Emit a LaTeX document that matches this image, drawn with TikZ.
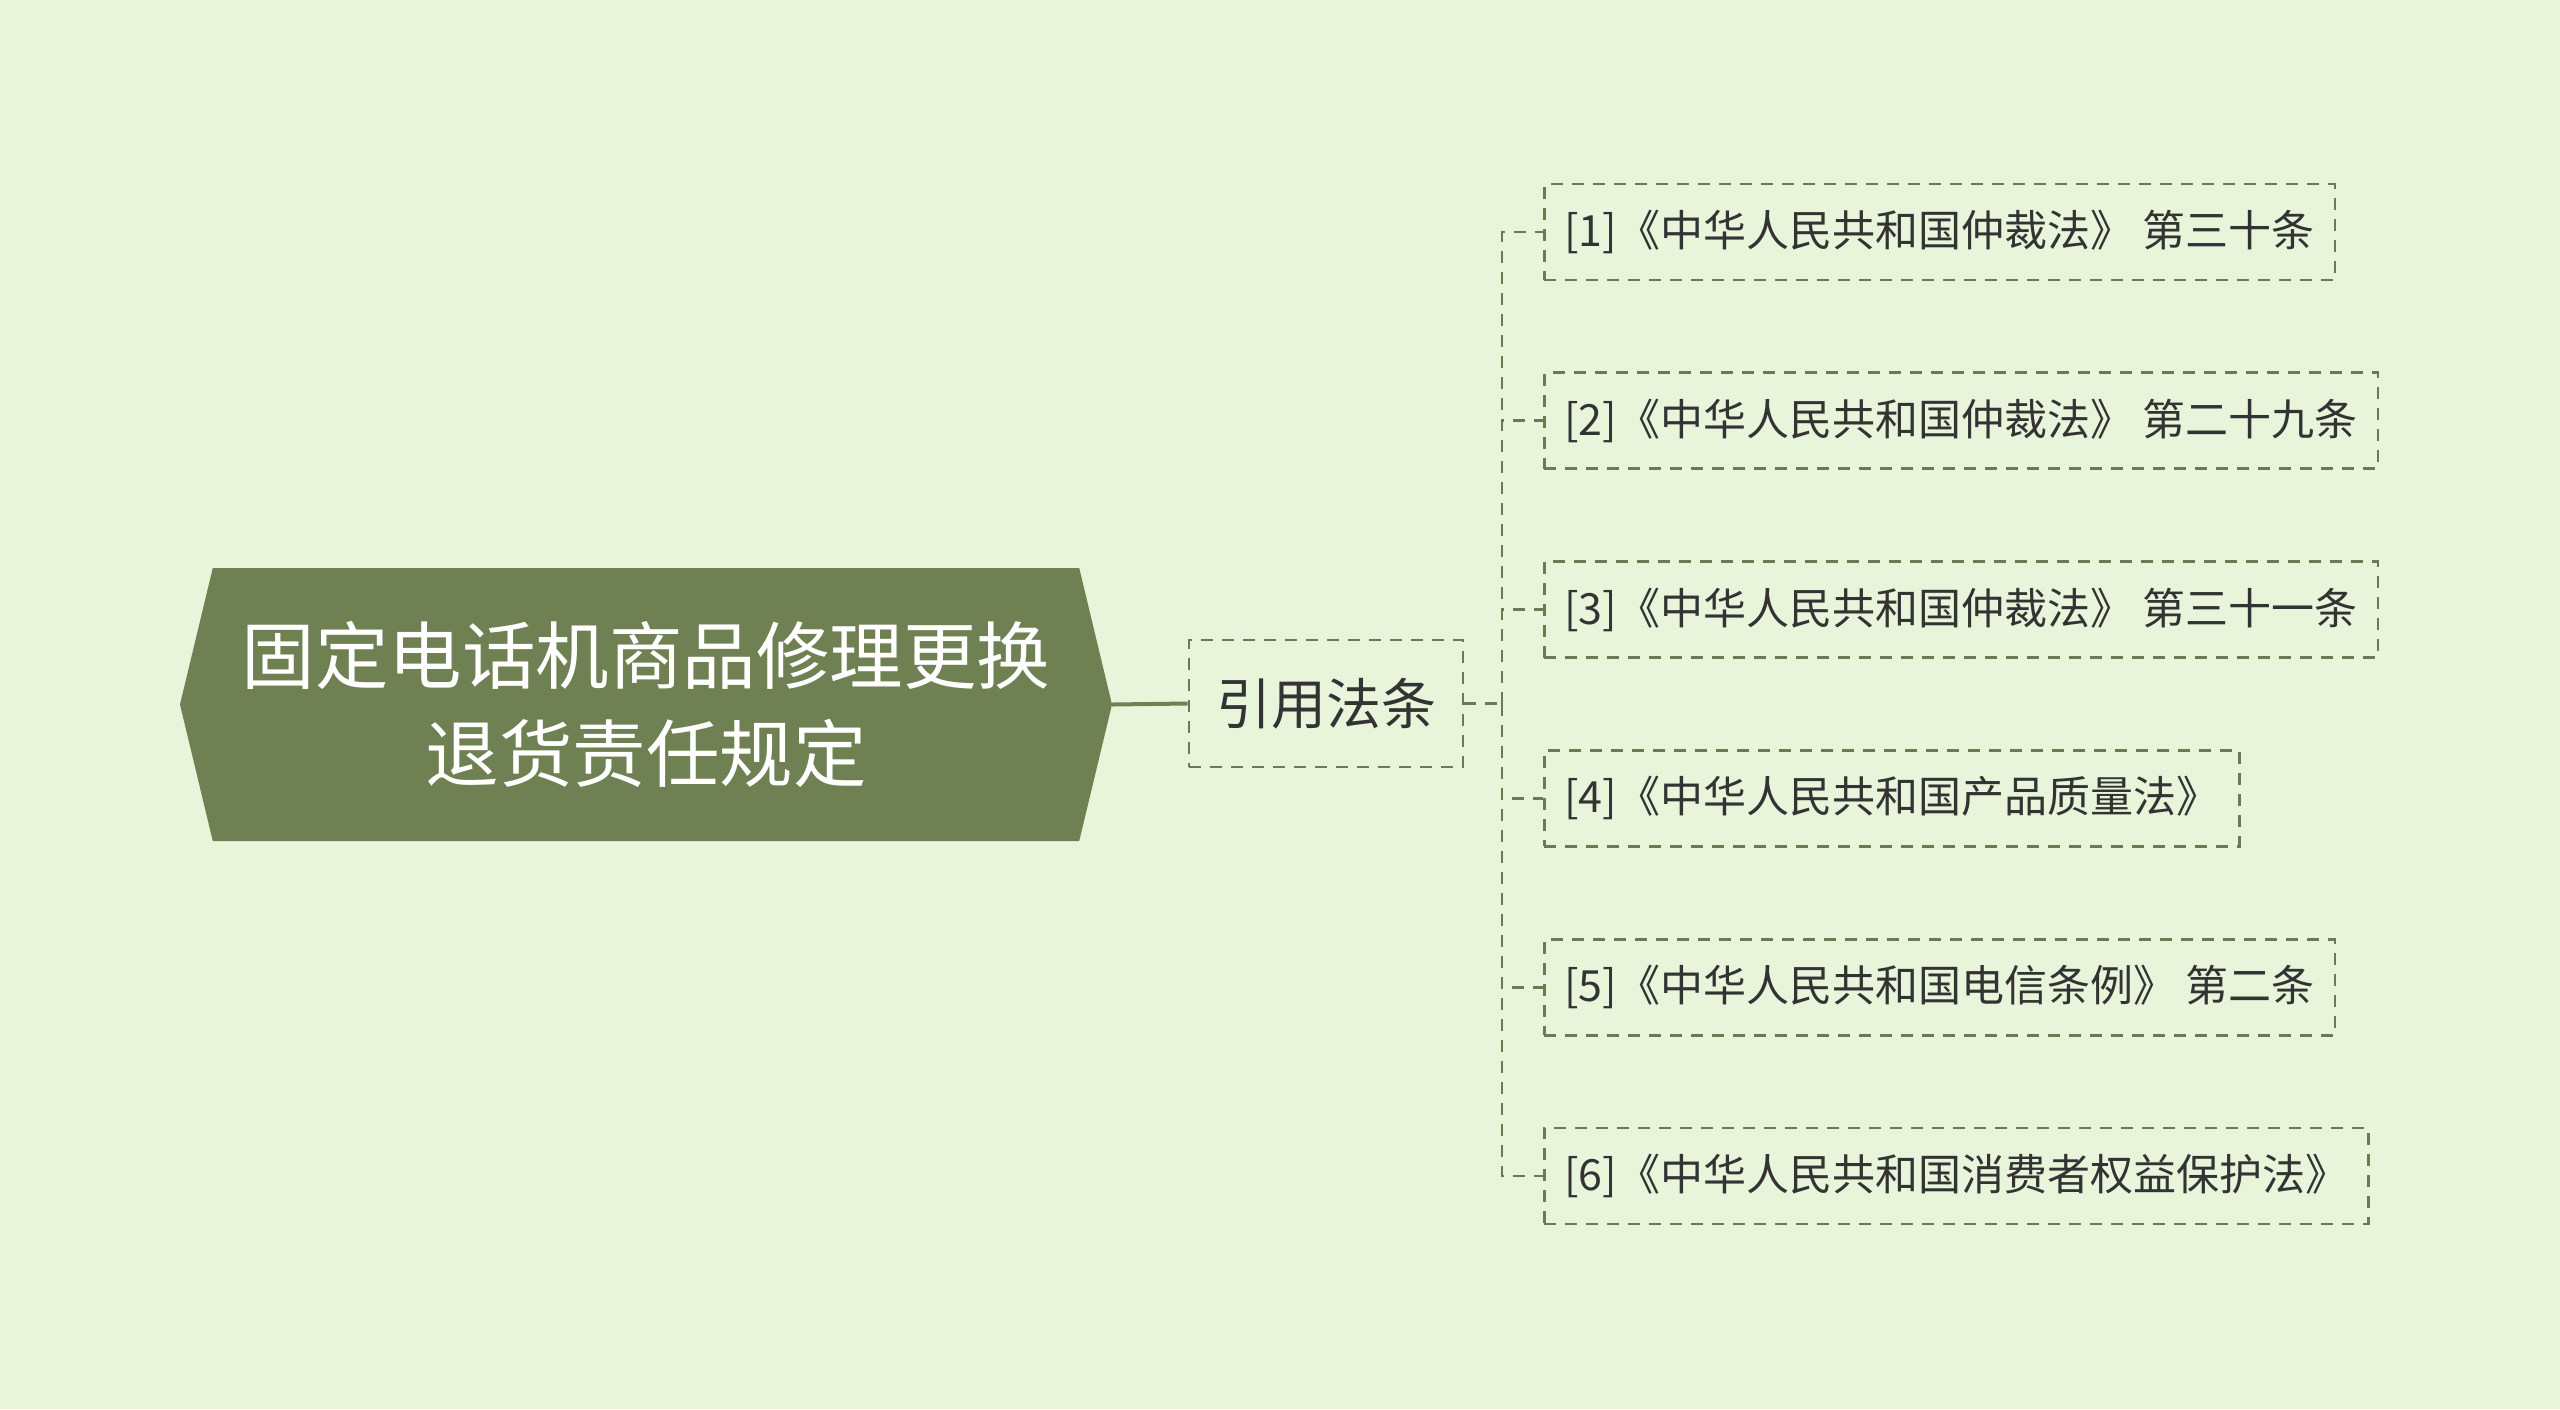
\documentclass[tikz,border=0pt]{standalone}
\usepackage{fontspec}
\newfontfamily\cjk{Noto Sans CJK SC}
\usetikzlibrary{positioning, shapes.symbols}
\definecolor{bgcol}{RGB}{232,245,219}
\definecolor{olive}{RGB}{111,128,82}
\definecolor{dashcol}{RGB}{107,122,80}
\definecolor{txt}{RGB}{51,51,51}

\tikzset{
  topic/.style={shape=signal, signal to=east and west, signal pointer angle=153,
    fill=olive, text=white, minimum width=932pt, minimum height=273pt, inner sep=0pt,
    align=center, font=\cjk\fontsize{73.5}{98}\selectfont},
  sub/.style={draw=dashcol, line width=2.8pt, dash pattern=on 12pt off 9pt,
    minimum width=274pt, minimum height=127pt, inner sep=0pt, text=txt,
    font=\cjk\fontsize{55}{66}\selectfont},
  leaf/.style={draw=dashcol, line width=2.8pt, dash pattern=on 12pt off 9pt,
    anchor=west, minimum height=96pt, inner xsep=20pt, inner ysep=0pt, text=txt,
    font=\cjk\fontsize{43}{50}\selectfont},
  link/.style={draw=dashcol, line width=2.8pt, dash pattern=on 12pt off 9pt}
}

\begin{document}
\begin{tikzpicture}[x=1pt, y=-1pt]
    \fill[bgcol] (0,0) rectangle (2560,1409);
    \useasboundingbox (0,0) rectangle (2560,1409);

    \node[topic] (root) at (646,704.5) {固定电话机商品修理更换\\退货责任规定};
    \node[sub] (cite) at (1326,703.5) {引用法条};
    \coordinate (hub) at (1502,703.5);

    \foreach \i/\t in {1/{[1]《中华人民共和国仲裁法》 第三十条},
                       2/{[2]《中华人民共和国仲裁法》 第二十九条},
                       3/{[3]《中华人民共和国仲裁法》 第三十一条},
                       4/{[4]《中华人民共和国产品质量法》},
                       5/{[5]《中华人民共和国电信条例》 第二条},
                       6/{[6]《中华人民共和国消费者权益保护法》}}
        \node[leaf] (c\i) at (1543,{232+188.8*(\i-1)}) {\t};

    \draw[olive, line width=4pt] (root.east) -- (cite.west);
    \draw[link] (cite.east) -- (hub);
    \foreach \i in {1,...,6}
        \draw[link] (hub) |- (c\i.west);
\end{tikzpicture}
\end{document}
